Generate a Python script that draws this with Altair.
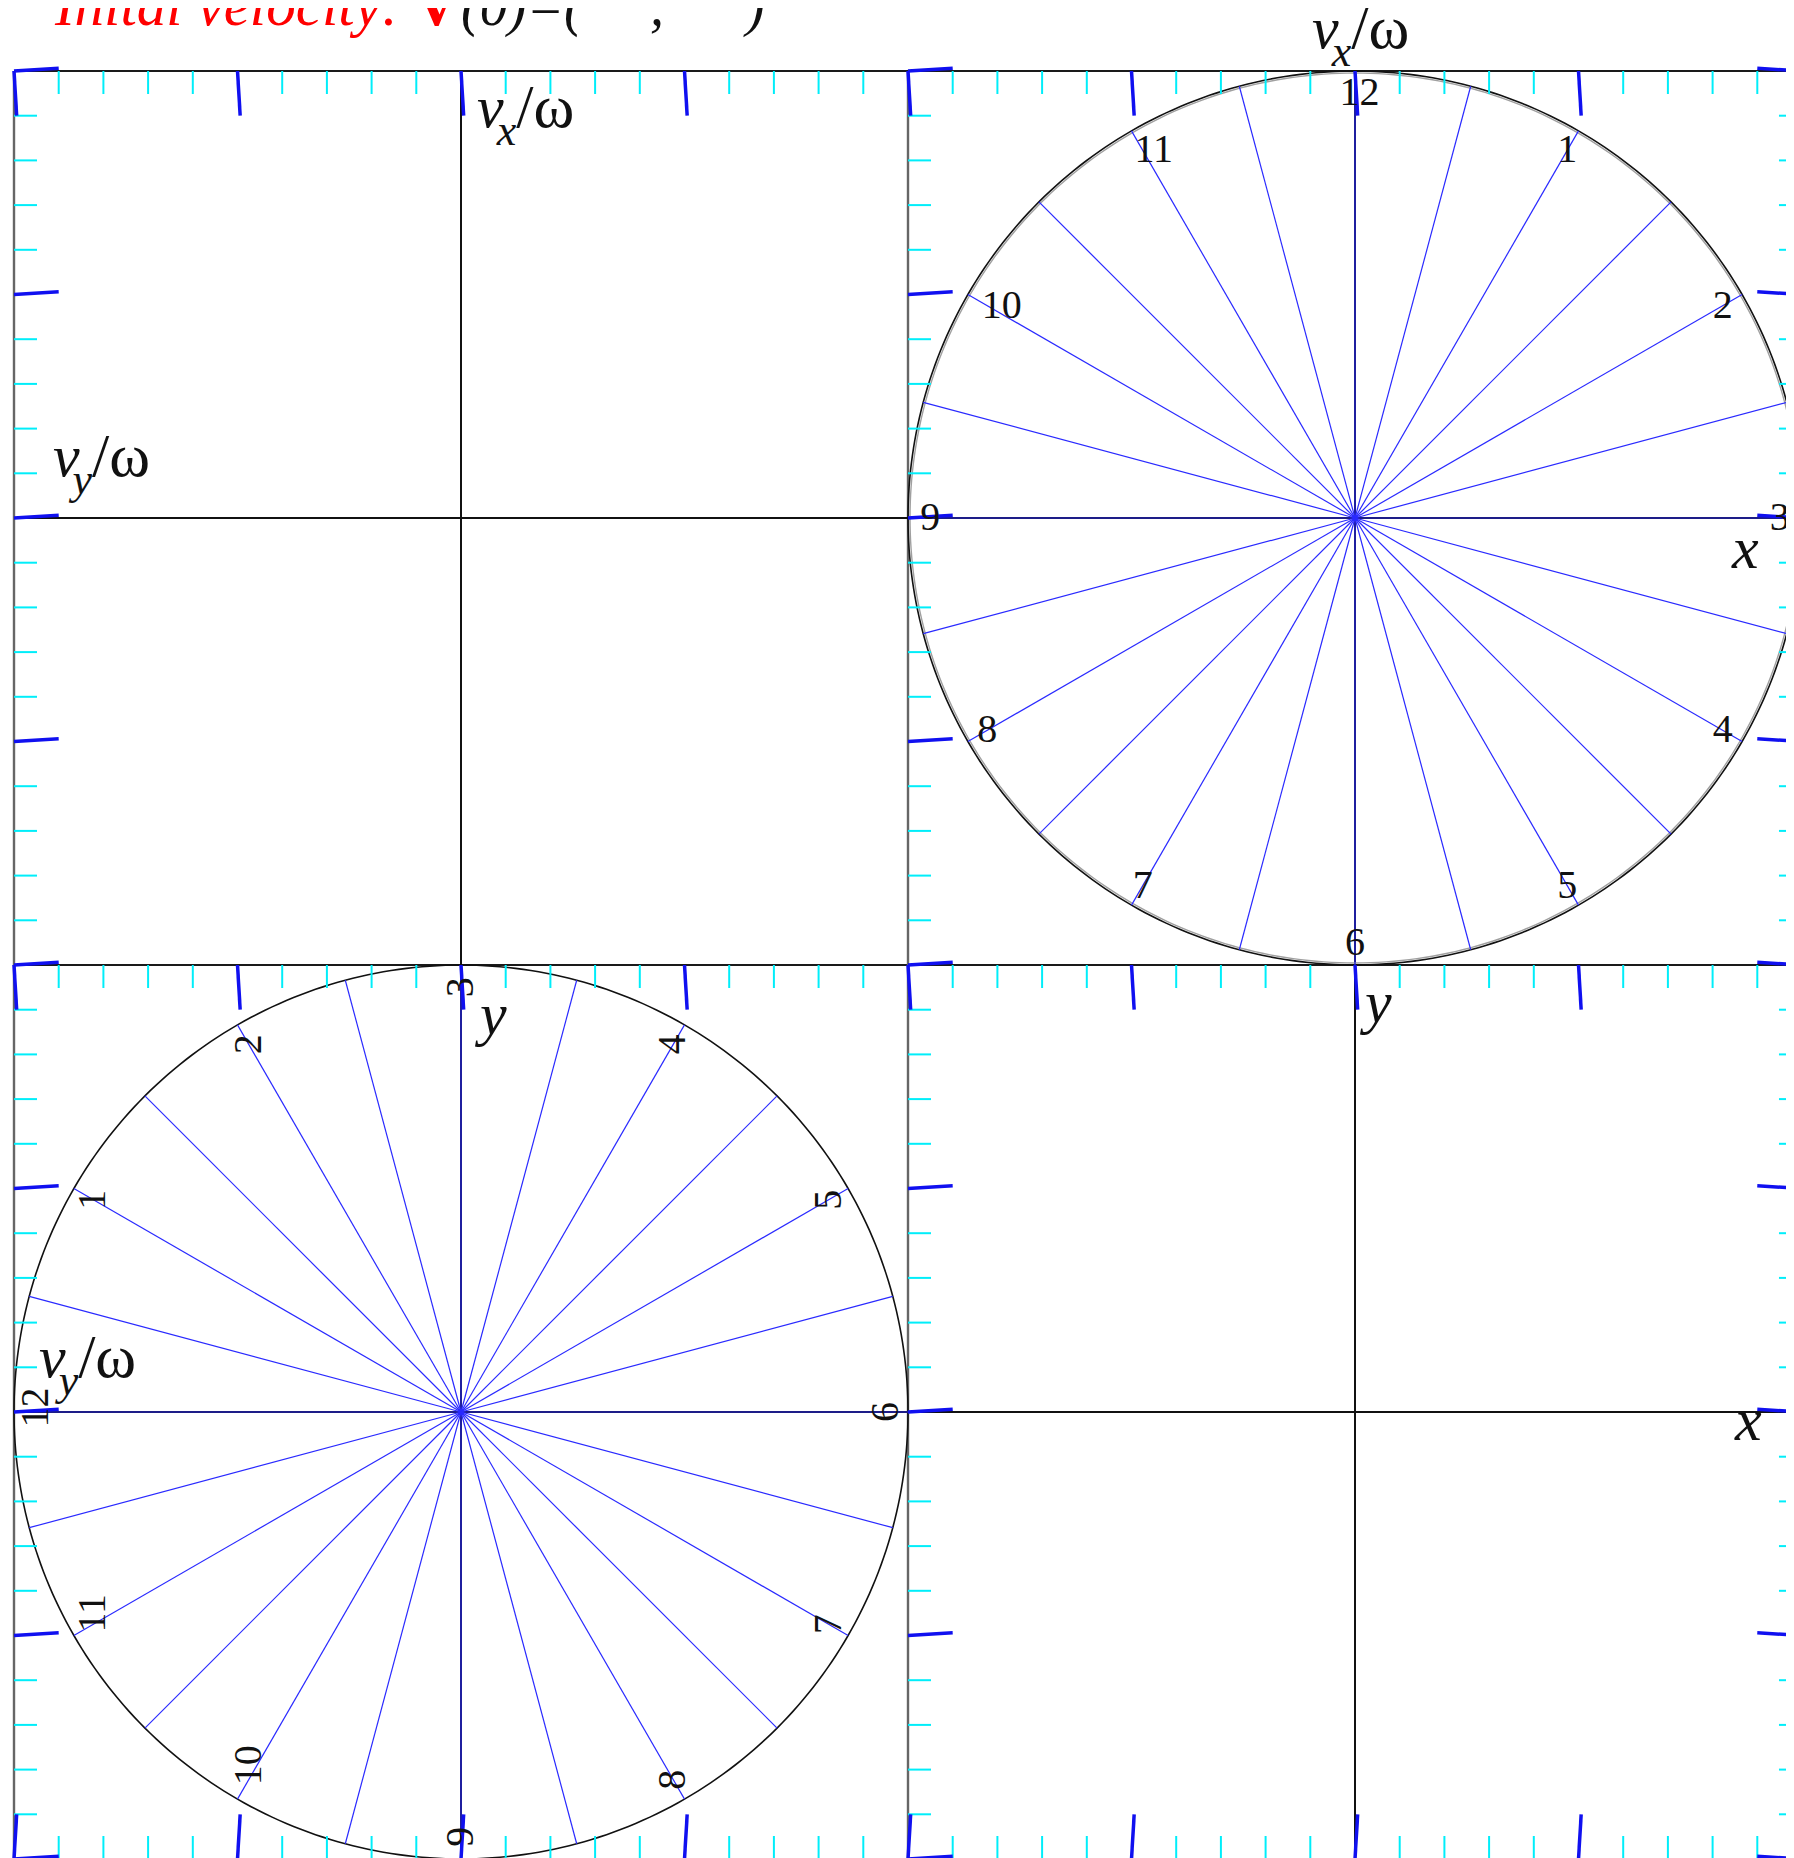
import altair as alt
import numpy as np
import pandas as pd

# ---------------- scene values (data units; every panel spans 4 x 4 units) ----------------
px_per_unit = 223.5
plot_w_px = 1772          # the page (1794 wide, 8px margins) cannot hold more
x_domain = [-2, -2 + plot_w_px / px_per_unit]
y_domain = [-6, 2]

# frame / panel boundaries
frame_h_lines = [2, -2, -6]          # horizontal boundaries (y)
frame_v_lines = [-2, 2, 6]           # vertical boundaries (x)

# axes of the four panels: (x, y1, y2) for vertical, (y, x1, x2) for horizontal
axis_v = [(0, -2, 2), (4, -2, 2), (0, -6, -2), (4, -6, -2)]
axis_h = [(0, -2, 2), (0, 2, 6), (-4, -2, 2), (-4, 2, 6)]

# clock panels
clock_cx = [4, 0]
clock_cy = [0, -4]
clock_12_angle = [90, 180]     # direction (deg) of the "12"
clock_text_angle = [0, 270]    # rotation of the hour numbers
circle_radius = 2.0
number_radius = 1.90
hours = [1, 2, 3, 4, 5, 6, 7, 8, 9, 10, 11, 12]
hour_shift = [0, 0, 0, 0, 0, 0, 0, 0, 0, 0.065, 0.05, 0.02]   # along reading direction
spoke_angles = [0, 15, 30, 45, 60, 75, 90, 105, 120, 135, 150, 165,
                180, 195, 210, 225, 240, 255, 270, 285, 300, 315, 330, 345]

# frame ticks
major_pos_x = [-2, -1, 0, 1, 2, 3, 4, 5, 6]
major_pos_y = [-6, -5, -4, -3, -2, -1, 0, 1, 2]
minor_step = 0.2
top_edges = [2, -2]       # ticks pointing down
bottom_edges = [-6]       # ticks pointing up
left_edges = [-2, 2]      # ticks pointing right
right_edges = [6]         # ticks pointing left
major_len = 0.2
minor_len = 0.103
major_tilt = 0.012

# axis labels: variable letter, base x, base y (baseline of "v")
v_labels = [("x", 0.072, 1.749), ("x", 3.808, 2.103),
            ("y", -1.826, 0.188), ("y", -1.888, -3.843)]
sub_dx, sub_dy, slash_dx = 0.088, -0.08, 0.175
coord_labels = [("x", 5.687, -0.224), ("y", 0.085, -2.309),
                ("y", 4.045, -2.255), ("x", 5.700, -4.125)]

# title pieces
title_y = 2.206
title_red_it = [("Inital velocity:", -1.817)]
title_red_bold = [("V", -0.205)]
title_black_it = [("(0)=(", 0.0), (",", 0.846), (")", 1.275)]

# ---------------- build tables ----------------
def minor_positions(lo, hi):
    n = int(round((hi - lo) / minor_step))
    out = []
    for k in range(n + 1):
        v = round(lo + k * minor_step, 3)
        if abs(v - round(v)) > 1e-6:
            out.append(v)
    return out

minor_x = minor_positions(-2, 6)
minor_y = minor_positions(-6, 2)

frame_rows = []
for y in frame_h_lines:
    frame_rows.append(dict(x=-2, y=y, x2=6, y2=y, kind="h"))
for x in frame_v_lines:
    frame_rows.append(dict(x=x, y=-6, x2=x, y2=2, kind="v"))
frame_df = pd.DataFrame(frame_rows)

axis_rows = []
for x, a, b in axis_v:
    axis_rows.append(dict(x=x, y=a, x2=x, y2=b))
for y, a, b in axis_h:
    axis_rows.append(dict(x=a, y=y, x2=b, y2=y))
axis_df = pd.DataFrame(axis_rows)

spoke_rows, circ_rows, num_rows = [], [], []
for ci, (cx, cy, a12, ta) in enumerate(zip(clock_cx, clock_cy, clock_12_angle, clock_text_angle)):
    for a in spoke_angles:
        r = np.deg2rad(a)
        spoke_rows.append(dict(x=cx, y=cy, x2=cx + circle_radius * np.cos(r),
                               y2=cy + circle_radius * np.sin(r)))
    for k in range(361):
        t = np.deg2rad(k)
        circ_rows.append(dict(cid=f"c{ci}", i=k, x=cx + circle_radius * np.cos(t),
                              y=cy + circle_radius * np.sin(t)))
    read_dx, read_dy = (1, 0) if ta == 0 else (0, 1)
    for h, sh in zip(hours, hour_shift):
        t = np.deg2rad(a12 - 30 * h)
        num_rows.append(dict(x=cx + number_radius * np.cos(t) + sh * read_dx,
                             y=cy + number_radius * np.sin(t) + sh * read_dy,
                             text=str(h), ang=ta))
spoke_df = pd.DataFrame(spoke_rows)
circle_df = pd.DataFrame(circ_rows)
num_df = pd.DataFrame(num_rows)

# faint second circle of the top-right panel
ghost_rows = []
for k in range(361):
    t = np.deg2rad(k)
    ghost_rows.append(dict(cid="g", i=k, x=clock_cx[0] + (circle_radius - 0.009) * np.cos(t),
                           y=clock_cy[0] + (circle_radius - 0.009) * np.sin(t)))
ghost_df = pd.DataFrame(ghost_rows)

major_rows, minor_rows = [], []
for ye in top_edges:
    for x in major_pos_x:
        major_rows.append(dict(x=x, y=ye, x2=x + major_tilt, y2=ye - major_len))
    for x in minor_x:
        minor_rows.append(dict(x=x, y=ye, x2=x, y2=ye - minor_len))
for ye in bottom_edges:
    for x in major_pos_x:
        major_rows.append(dict(x=x, y=ye, x2=x + major_tilt, y2=ye + major_len))
    for x in minor_x:
        minor_rows.append(dict(x=x, y=ye, x2=x, y2=ye + minor_len))
for xe in left_edges:
    for y in major_pos_y:
        major_rows.append(dict(x=xe, y=y, x2=xe + major_len, y2=y + major_tilt))
    for y in minor_y:
        minor_rows.append(dict(x=xe, y=y, x2=xe + minor_len, y2=y))
for xe in right_edges:
    for y in major_pos_y:
        major_rows.append(dict(x=xe, y=y, x2=xe - major_len, y2=y + major_tilt))
    for y in minor_y:
        minor_rows.append(dict(x=xe, y=y, x2=xe - minor_len, y2=y))
major_df = pd.DataFrame(major_rows)
minor_df = pd.DataFrame(minor_rows)

main_it_rows = [dict(x=x0, y=y0, text="v") for _, x0, y0 in v_labels]
main_it_rows += [dict(x=x0, y=y0, text=t) for t, x0, y0 in coord_labels]
sub_rows = [dict(x=x0 + sub_dx, y=y0 + sub_dy, text=t) for t, x0, y0 in v_labels]
slash_rows = [dict(x=x0 + slash_dx, y=y0, text="/ω") for _, x0, y0 in v_labels]
main_it_df = pd.DataFrame(main_it_rows)
sub_df = pd.DataFrame(sub_rows)
slash_df = pd.DataFrame(slash_rows)

t_red_it = pd.DataFrame([dict(x=x, y=title_y, text=t) for t, x in title_red_it])
t_red_bold = pd.DataFrame([dict(x=x, y=title_y, text=t) for t, x in title_red_bold])
t_black_it = pd.DataFrame([dict(x=x, y=title_y, text=t) for t, x in title_black_it])

# ---------------- chart ----------------
W = plot_w_px
H = 1788
xs = alt.Scale(domain=x_domain, nice=False, zero=False)
ys = alt.Scale(domain=y_domain, nice=False, zero=False)
FONT = "Liberation Serif"


def rules(df, color, width):
    return alt.Chart(df).mark_rule(color=color, strokeWidth=width).encode(
        x=alt.X("x:Q", scale=xs, axis=None), y=alt.Y("y:Q", scale=ys, axis=None),
        x2="x2:Q", y2="y2:Q")


def texts(df, size, color, style="normal", weight="normal", align="left", baseline="alphabetic"):
    return alt.Chart(df).mark_text(font=FONT, fontSize=size, color=color, fontStyle=style,
                                   fontWeight=weight, align=align, baseline=baseline).encode(
        x=alt.X("x:Q", scale=xs, axis=None), y=alt.Y("y:Q", scale=ys, axis=None), text="text:N")


frame_h = rules(frame_df[frame_df.kind == "h"], "#1a1a1a", 2.2)
frame_v = rules(frame_df[frame_df.kind == "v"], "#666666", 2.4)
axes = rules(axis_df, "#111111", 2.0)
spokes = rules(spoke_df, "#2a2aff", 1.2)

ghost = alt.Chart(ghost_df).mark_line(color="#a0a0a0", strokeWidth=1.4).encode(
    x=alt.X("x:Q", scale=xs, axis=None), y=alt.Y("y:Q", scale=ys, axis=None),
    detail="cid:N", order="i:Q")
circles = alt.Chart(circle_df).mark_line(color="#111111", strokeWidth=1.6).encode(
    x=alt.X("x:Q", scale=xs, axis=None), y=alt.Y("y:Q", scale=ys, axis=None),
    detail="cid:N", order="i:Q")

minor_ticks = rules(minor_df, "#00eefa", 2.0)
major_ticks = rules(major_df, "#1010f0", 3.5)

numbers = alt.Chart(num_df).mark_text(font=FONT, fontSize=40, color="#111111",
                                      align="center", baseline="middle").encode(
    x=alt.X("x:Q", scale=xs, axis=None), y=alt.Y("y:Q", scale=ys, axis=None),
    text="text:N", angle=alt.Angle("ang:Q", scale=None))

lab_main = texts(main_it_df, 60, "#111111", style="italic")
lab_sub = texts(sub_df, 44, "#111111", style="italic")
lab_slash = texts(slash_df, 62, "#111111")

title1 = texts(t_red_it, 59, "#ff0000", style="italic")
title2 = texts(t_red_bold, 59, "#ff0000", weight="bold")
title3 = texts(t_black_it, 56, "#111111", style="italic")

chart = alt.layer(
    frame_h, frame_v, axes, ghost, circles, spokes, minor_ticks, major_ticks,
    numbers, lab_main, lab_sub, lab_slash, title1, title2, title3
).properties(
    width=W, height=H,
    autosize=alt.AutoSizeParams(type="none"),
    padding={"left": 6, "top": 63, "right": 0, "bottom": 0},
    background="white",
).configure_view(stroke=None)

chart.save("out.html", embed_options={"renderer": "svg", "actions": False})
